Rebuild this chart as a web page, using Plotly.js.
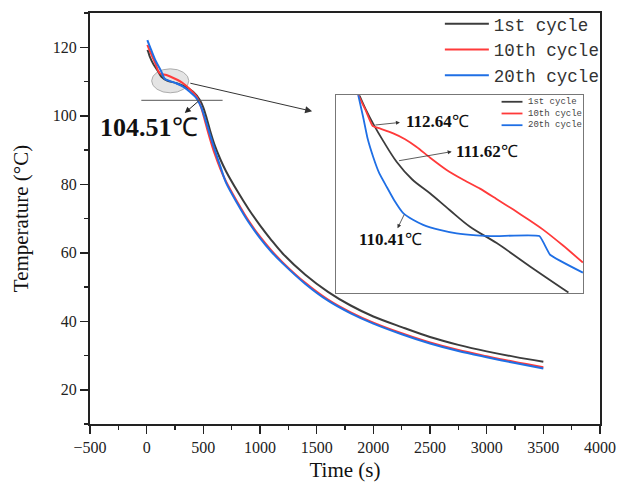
<!DOCTYPE html>
<html>
<head>
<meta charset="utf-8">
<script src="https://cdn.plot.ly/plotly-3.0.1.min.js"></script>
<style>html,body{margin:0;padding:0;background:#fff;}#chart{width:620px;height:488px;}</style>
</head>
<body>
<div id="chart"></div>
<script>
// ---- main chart data ----
const seriesNames = ["1st cycle", "10th cycle", "20th cycle"];
const time1 = [6, 15, 27, 60, 100, 130, 180, 263, 340, 410, 469, 500, 530, 560, 600, 650, 700, 800, 900, 1000, 1100, 1200, 1400, 1600, 1800, 2000, 2250, 2500, 2750, 3000, 3250, 3500];
const temp1 = [119.2, 118.6, 117.3, 115, 113, 111.4, 110.3, 109.5, 108.5, 107, 104.6, 102.4, 99.2, 95.6, 91.4, 87.3, 83.8, 78, 72.7, 68, 63.7, 59.8, 53.6, 48.6, 44.6, 41.4, 38.3, 35.4, 33.1, 31.2, 29.6, 28.2];
const time10 = [6, 40, 80, 115, 174, 250, 321, 380, 440, 480, 520, 560, 600, 650, 700, 800, 900, 1000, 1100, 1200, 1400, 1600, 1800, 2000, 2250, 2500, 2750, 3000, 3250, 3500];
const temp10 = [120.7, 118, 115, 112.4, 111.9, 110.8, 109.5, 107.8, 105.6, 102.5, 97.8, 93.1, 88.9, 84.5, 80.8, 74.8, 69.3, 64.7, 60.7, 57.2, 51.2, 46.3, 42.6, 39.6, 36.5, 33.8, 31.6, 29.8, 28.1, 26.6];
const time20 = [6, 40, 80, 130, 159, 200, 260, 321, 380, 440, 480, 520, 560, 600, 650, 700, 800, 900, 1000, 1100, 1200, 1400, 1600, 1800, 2000, 2250, 2500, 2750, 3000, 3250, 3500];
const temp20 = [122.1, 119.2, 116, 112.9, 110.8, 110.2, 109.5, 108.5, 107, 105.1, 102.6, 98.7, 94.3, 90.1, 85.2, 80.5, 74.4, 68.9, 64.3, 60.3, 56.9, 50.9, 46, 42.3, 39.3, 36.2, 33.5, 31.3, 29.5, 27.8, 26.2];

// ---- inset (zoomed view) data ----
const insetTime1 = [123.6, 130, 137.7, 148, 161.4, 177, 195.1, 215, 235.6, 262.6, 296.3, 335.1];
const insetTemp1 = [113.44, 113.08, 112.70, 112.25, 111.72, 111.27, 110.91, 110.48, 110.05, 109.63, 109.03, 108.36];
const insetTime10 = [122.6, 130, 137.1, 145, 158, 170, 181.7, 195, 212, 228, 245.7, 262, 279.4, 295, 309.8, 330, 349.7];
const insetTemp10 = [113.44, 113.05, 112.64, 112.57, 112.45, 112.3, 112.10, 111.83, 111.51, 111.27, 111.03, 110.77, 110.49, 110.23, 109.97, 109.56, 109.13];
const insetTime20 = [122.6, 127.6, 132, 137.7, 144, 151.3, 159, 168.1, 178, 188.3, 205, 222.1, 242, 262.6, 305.7, 316.6, 349.7];
const insetTemp20 = [113.44, 112.87, 112.33, 111.85, 111.42, 111.08, 110.73, 110.40, 110.23, 110.10, 109.97, 109.88, 109.83, 109.81, 109.81, 109.33, 108.87];

// ---- labels ----
const mainLabel = "104.51";
const mainLabelValue = 104.51;
const insetLabels = ["112.64", "111.62", "110.41"];
const xTitle = "Time (s)";
const yTitle = "Temperature (°C)";

const colors = ["#3c3c3c", "#ff3a3a", "#1f6fe5"];
const serif = "Liberation Serif, Times New Roman, serif";
const mono = "Liberation Mono, Courier New, monospace";

const mainX = [time1, time10, time20];
const mainY = [temp1, temp10, temp20];
const insX = [insetTime1, insetTime10, insetTime20];
const insY = [insetTemp1, insetTemp10, insetTemp20];
const insSmooth = [1.0, 0.35, 0.35];

const traces = [];
for (let i = 0; i < 3; i++) {
  traces.push({
    x: mainX[i], y: mainY[i], type: "scatter", mode: "lines", name: seriesNames[i],
    line: {color: colors[i], width: 2, shape: "spline", smoothing: 0.9},
    xaxis: "x", yaxis: "y"
  });
}
for (let i = 0; i < 3; i++) {
  traces.push({
    x: insX[i], y: insY[i], type: "scatter", mode: "lines", name: seriesNames[i],
    line: {color: colors[i], width: 1.8, shape: "spline", smoothing: insSmooth[i]}, showlegend: false,
    xaxis: "x2", yaxis: "y2"
  });
}

const insetDom = {x: [0.482, 0.967], y: [0.319, 0.800]};

const shapes = [
  {type: "circle", xref: "x", yref: "y", x0: 44, x1: 372, y0: 106.7, y1: 113.7,
   fillcolor: "rgba(205,205,205,0.55)", line: {color: "rgba(165,165,165,0.9)", width: 1}, layer: "below"},
  {type: "line", xref: "x", yref: "y", x0: -47, x1: 670, y0: mainLabelValue, y1: mainLabelValue,
   line: {color: "#555", width: 1}}
];
// compact inset legend: sample lines + one multi-line label
const legY = [0.7840, 0.7555, 0.7270];
for (let i = 0; i < 3; i++) {
  shapes.push({type: "line", xref: "paper", yref: "paper", x0: 0.807, x1: 0.848, y0: legY[i], y1: legY[i],
    line: {color: colors[i], width: 1.8}});
}

const annotations = [
  {xref: "x", yref: "y", x: 18, y: 96.5, text: "<b>" + mainLabel + "</b>℃", showarrow: false,
   font: {family: serif, size: 26, color: "#111"}},
  {xref: "x", yref: "y", axref: "x", ayref: "y", x: 336, y: 100.8, ax: 469, ay: 104.6, text: "",
   showarrow: true, arrowhead: 2, arrowsize: 1.2, arrowwidth: 1, arrowcolor: "#222"},
  {xref: "x", yref: "y", axref: "x", ayref: "y", x: 1460, y: 101.3, ax: 372, ay: 109.6, text: "",
   showarrow: true, arrowhead: 2, arrowsize: 1.4, arrowwidth: 1, arrowcolor: "#333"},
  {xref: "x2", yref: "y2", x: 203.2, y: 112.75, text: "<b>" + insetLabels[0] + "</b>℃", showarrow: false,
   font: {family: serif, size: 17, color: "#111"}},
  {xref: "x2", yref: "y2", axref: "x2", ayref: "y2", x: 164.8, y: 112.73, ax: 138.5, ay: 112.66, text: "",
   showarrow: true, arrowhead: 2, arrowsize: 1, arrowwidth: 0.8, arrowcolor: "#333"},
  {xref: "x2", yref: "y2", x: 252.8, y: 111.99, text: "<b>" + insetLabels[1] + "</b>℃", showarrow: false,
   font: {family: serif, size: 17, color: "#111"}},
  {xref: "x2", yref: "y2", axref: "x2", ayref: "y2", x: 217.1, y: 111.98, ax: 162.4, ay: 111.74, text: "",
   showarrow: true, arrowhead: 2, arrowsize: 1, arrowwidth: 0.8, arrowcolor: "#333"},
  {xref: "x2", yref: "y2", x: 155.7, y: 109.73, text: "<b>" + insetLabels[2] + "</b>℃", showarrow: false,
   font: {family: serif, size: 17, color: "#111"}},
  {xref: "x2", yref: "y2", axref: "x2", ayref: "y2", x: 162.4, y: 110.01, ax: 169.8, ay: 110.40, text: "",
   showarrow: true, arrowhead: 2, arrowsize: 1, arrowwidth: 0.8, arrowcolor: "#333"},
  {xref: "paper", yref: "paper", x: 0.857, y: legY[1], xanchor: "left", yanchor: "middle", align: "left",
   text: seriesNames.join("<br>"), showarrow: false, borderpad: 0,
   font: {family: mono, size: 9, color: "#444"}}
];

const axisCommon = {
  showgrid: false, zeroline: false, showline: true, mirror: true, linecolor: "#222", linewidth: 2,
  ticks: "outside", ticklen: 8, tickwidth: 1.5, tickcolor: "#222",
  tickfont: {family: serif, size: 16, color: "#222"}, automargin: false
};

const layout = {
  width: 620, height: 488,
  margin: {l: 90, r: 20, t: 13, b: 64, pad: 0, autoexpand: false},
  paper_bgcolor: "#fff", plot_bgcolor: "#fff",
  showlegend: true,
  legend: {x: 0.686, xanchor: "left", y: 0.988, yref: "container", yanchor: "top", bgcolor: "rgba(0,0,0,0)",
    font: {family: mono, size: 17.5, color: "#333"}, itemwidth: 44},
  xaxis: Object.assign({}, axisCommon, {
    range: [-500, 4000], dtick: 500, tick0: 0,
    minor: {ticks: "outside", ticklen: 4, dtick: 250, tickwidth: 1.5, tickcolor: "#222"},
    title: {text: xTitle, font: {family: serif, size: 21, color: "#111"}, standoff: 7}
  }),
  yaxis: Object.assign({}, axisCommon, {
    range: [10, 130], dtick: 20, tick0: 0,
    minor: {ticks: "outside", ticklen: 4, dtick: 10, tickwidth: 1.5, tickcolor: "#222"},
    title: {text: yTitle, font: {family: serif, size: 21, color: "#111"}, standoff: 18}
  }),
  xaxis2: {domain: insetDom.x, anchor: "y2", range: [100, 350], showgrid: false, zeroline: false,
    showline: true, mirror: true, linecolor: "#777", linewidth: 1.2, showticklabels: false, ticks: ""},
  yaxis2: {domain: insetDom.y, anchor: "x2", range: [108.35, 113.43], showgrid: false, zeroline: false,
    showline: true, mirror: true, linecolor: "#777", linewidth: 1.2, showticklabels: false, ticks: ""},
  shapes: shapes,
  annotations: annotations
};

Plotly.newPlot("chart", traces, layout, {staticPlot: true, displayModeBar: false});
</script>
</body>
</html>
